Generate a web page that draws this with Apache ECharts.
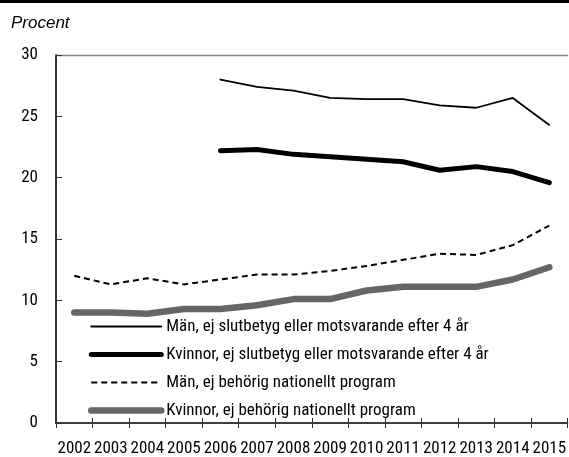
<!DOCTYPE html>
<html>
<head>
<meta charset="utf-8">
<script src="https://cdn.jsdelivr.net/npm/echarts@6/dist/echarts.min.js"></script>
<style>
  html, body { margin: 0; padding: 0; background: #fff; }
  #chart { width: 569px; height: 457px; }
</style>
</head>
<body>
<div id="chart"></div>
<script>
// år
var years = ['2002', '2003', '2004', '2005', '2006', '2007', '2008', '2009', '2010', '2011', '2012', '2013', '2014', '2015'];

// andel i procent
var manSlutbetyg = [null, null, null, null, 28.0, 27.4, 27.1, 26.5, 26.4, 26.4, 25.9, 25.7, 26.5, 24.3];
var kvinnorSlutbetyg = [null, null, null, null, 22.2, 22.3, 21.9, 21.7, 21.5, 21.3, 20.6, 20.9, 20.5, 19.6];
var manBehorig = [12.0, 11.3, 11.8, 11.3, 11.7, 12.1, 12.1, 12.4, 12.8, 13.3, 13.8, 13.7, 14.5, 16.1];
var kvinnorBehorig = [9.0, 9.0, 8.9, 9.3, 9.3, 9.6, 10.1, 10.1, 10.8, 11.1, 11.1, 11.1, 11.7, 12.7];

var seriesNames = [
  'Män, ej slutbetyg eller motsvarande efter 4 år',
  'Kvinnor, ej slutbetyg eller motsvarande efter 4 år',
  'Män, ej behörig nationellt program',
  'Kvinnor, ej behörig nationellt program'
];

var narrow = '"Roboto Condensed", sans-serif';

var chart = echarts.init(document.getElementById('chart'));

var option = {
  backgroundColor: '#fff',
  animation: false,
  grid: { left: 56, right: -1, top: 55, bottom: 30 },
  graphic: [
    { type: 'rect', left: 0, top: 0, shape: { width: 569, height: 3 }, style: { fill: '#000' } },
    { type: 'text', left: 11, top: 15, style: { text: 'Procent', font: 'italic 17px "Liberation Sans", Arial, sans-serif', fill: '#000' } }
  ],
  legend: {
    orient: 'vertical',
    left: 88,
    top: 318,
    padding: 0,
    itemWidth: 70,
    itemHeight: 14,
    itemGap: 11,
    itemStyle: { opacity: 0 },
    data: [
      { name: seriesNames[0], lineStyle: { width: 2, cap: 'round' } },
      { name: seriesNames[1], lineStyle: { width: 5, cap: 'round' } },
      { name: seriesNames[2], lineStyle: { width: 2 } },
      { name: seriesNames[3], lineStyle: { width: 6.5, cap: 'round' } }
    ],
    textStyle: { fontFamily: narrow, fontSize: 17, color: '#000' }
  },
  xAxis: [{
    type: 'category',
    data: years,
    position: 'bottom',
    axisLine: { lineStyle: { color: '#000', width: 1.5 } },
    axisTick: { show: true, inside: false, length: 5, lineStyle: { color: '#333', width: 1 } },
    axisLabel: { interval: 0, fontFamily: narrow, fontSize: 17, color: '#000', margin: 17 }
  }, {
    type: 'category',
    data: years,
    position: 'bottom',
    axisLine: { show: false },
    axisTick: { show: true, inside: true, length: 5, lineStyle: { color: '#333', width: 1 } },
    axisLabel: { show: false }
  }, {
    type: 'category',
    data: years,
    position: 'top',
    axisLine: { lineStyle: { color: '#888', width: 1.3 } },
    axisTick: { show: false },
    axisLabel: { show: false }
  }],
  yAxis: {
    type: 'value',
    min: 0,
    max: 30,
    interval: 5,
    axisLine: { show: true, lineStyle: { color: '#333', width: 2 } },
    axisTick: { show: true, inside: true, length: 6, lineStyle: { color: '#333', width: 1 } },
    splitLine: { show: false },
    axisLabel: { fontFamily: narrow, fontSize: 17, color: '#000', margin: 18 }
  },
  series: [{
    name: seriesNames[0],
    type: 'line',
    data: manSlutbetyg,
    symbol: 'none',
    lineStyle: { color: '#000', width: 1.8, cap: 'round' },
    itemStyle: { color: '#000' }
  }, {
    name: seriesNames[1],
    type: 'line',
    data: kvinnorSlutbetyg,
    symbol: 'none',
    lineStyle: { color: '#000', width: 5, cap: 'round', join: 'round' },
    itemStyle: { color: '#000' }
  }, {
    name: seriesNames[2],
    type: 'line',
    data: manBehorig,
    symbol: 'none',
    lineStyle: { color: '#000', width: 2, type: [6, 4] },
    itemStyle: { color: '#000' }
  }, {
    name: seriesNames[3],
    type: 'line',
    data: kvinnorBehorig,
    symbol: 'none',
    lineStyle: { color: '#666', width: 6.5, cap: 'round', join: 'round' },
    itemStyle: { color: '#666' }
  }]
};

chart.setOption(option);
</script>
</body>
</html>
